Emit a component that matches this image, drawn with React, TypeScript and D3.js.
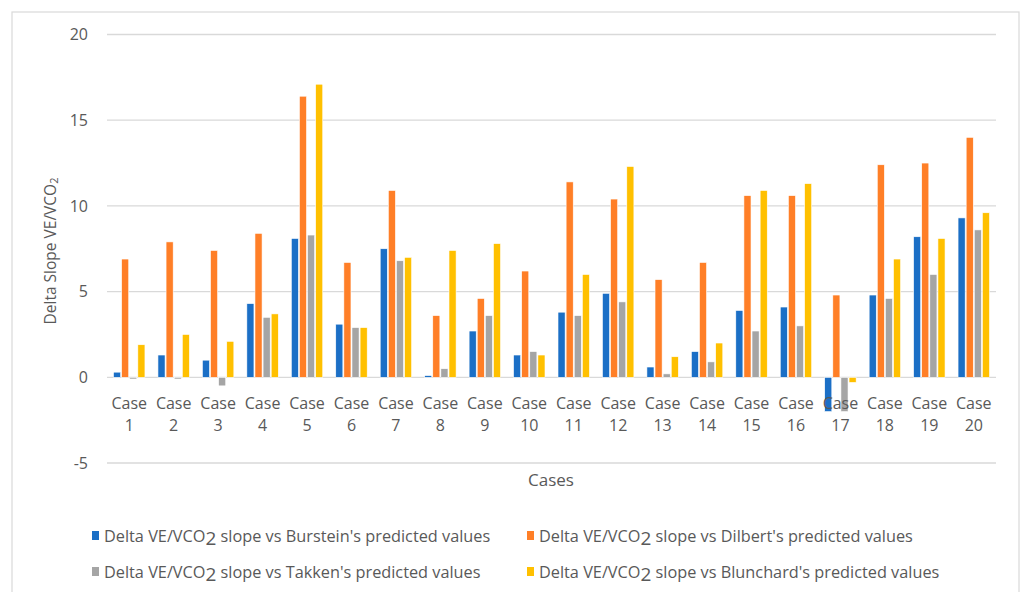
import React from "react";
import * as d3 from "d3";

const categories = Array.from({ length: 20 }, (_, i) => `${i + 1}`);
const burstein = [0.3, 1.3, 1.0, 4.3, 8.1, 3.1, 7.5, 0.1, 2.7, 1.3, 3.8, 4.9, 0.6, 1.5, 3.9, 4.1, -2.0, 4.8, 8.2, 9.3];
const dilbert = [6.9, 7.9, 7.4, 8.4, 16.4, 6.7, 10.9, 3.6, 4.6, 6.2, 11.4, 10.4, 5.7, 6.7, 10.6, 10.6, 4.8, 12.4, 12.5, 14.0];
const takken = [-0.1, -0.1, -0.5, 3.5, 8.3, 2.9, 6.8, 0.5, 3.6, 1.5, 3.6, 4.4, 0.2, 0.9, 2.7, 3.0, -2.0, 4.6, 6.0, 8.6];
const blunchard = [1.9, 2.5, 2.1, 3.7, 17.1, 2.9, 7.0, 7.4, 7.8, 1.3, 6.0, 12.3, 1.2, 2.0, 10.9, 11.3, -0.3, 6.9, 8.1, 9.6];
const yTicks = [-5, 0, 5, 10, 15, 20];

const seriesNames = ["Burstein", "Dilbert", "Takken", "Blunchard"];
const seriesValues = [burstein, dilbert, takken, blunchard];
const colors = ["#1B6FC6", "#FF7F27", "#A5A5A5", "#FFC000"];

const FONT = "'Open Sans', 'Liberation Sans', sans-serif";
const TXT = "#595959";

export default function App() {
  const W = 1021, H = 592;
  const left = 107, right = 996, top = 34.5, bottom = 463;
  const x = d3.scaleBand<string>().domain(categories).range([left, right]).paddingInner(0).paddingOuter(0);
  const y = d3.scaleLinear().domain([-5, 20]).range([bottom, top]);
  const groupW = x.bandwidth() * 0.73;
  const xs = d3.scaleBand<number>().domain([0, 1, 2, 3]).range([0, groupW]).padding(0);
  const off = (x.bandwidth() - groupW) / 2;

  return (
    <svg width={W} height={H} style={{ position: "absolute", left: 0, top: 0, background: "#fff" }}>
      <rect x={12} y={12} width={1007} height={600} fill="#fff" stroke="#D9D9D9" strokeWidth={1.2} />
      {yTicks.map((t) => (
        <g key={t}>
          <line x1={left} x2={right} y1={y(t)} y2={y(t)} stroke="#D9D9D9" strokeWidth={1.3} />
          <text x={88} y={y(t)} dy="0.35em" textAnchor="end" fontFamily={FONT} fontSize={16} fill={TXT}>{t}</text>
        </g>
      ))}
      {seriesValues.map((vals, si) =>
        vals.map((v, i) => {
          const bx = (x(categories[i]) as number) + off + (xs(si) as number);
          const y0 = y(0), y1 = y(v);
          return (
            <rect key={`${si}-${i}`} x={bx + 0.5} width={xs.bandwidth() - 1} y={Math.min(y0, y1)} height={Math.abs(y1 - y0)}
              fill={colors[si]} stroke="#fff" strokeWidth={0.6} />
          );
        })
      )}
      {categories.map((c) => {
        const cx = (x(c) as number) + x.bandwidth() / 2;
        return (
          <text key={c} x={cx} textAnchor="middle" fontFamily={FONT} fontSize={16} fill={TXT}>
            <tspan x={cx} y={409}>Case</tspan>
            <tspan x={cx} y={431}>{c}</tspan>
          </text>
        );
      })}
      <text x={551} y={486} textAnchor="middle" fontFamily={FONT} fontSize={17} fill={TXT}>Cases</text>
      <text transform={`translate(56,251) rotate(-90)`} textAnchor="middle" fontFamily={FONT} fontSize={15.5} fill={TXT}>
        Delta Slope VE/VCO<tspan fontSize={11} dy={2}>2</tspan>
      </text>
      {seriesNames.map((n, i) => {
        const lx = i % 2 === 0 ? 92 : 527;
        const ly = i < 2 ? 536 : 572;
        return (
          <g key={n}>
            <rect x={lx} y={ly - 5} width={7} height={9} fill={colors[i]} />
            <text x={lx + 12} y={ly} dy="0.35em" fontFamily={FONT} fontSize={16.3} fill={TXT}>
              Delta VE/VCO<tspan fontSize={19} dy={3}>2</tspan><tspan dy={-3}> slope vs {n}'s predicted values</tspan>
            </text>
          </g>
        );
      })}
    </svg>
  );
}
